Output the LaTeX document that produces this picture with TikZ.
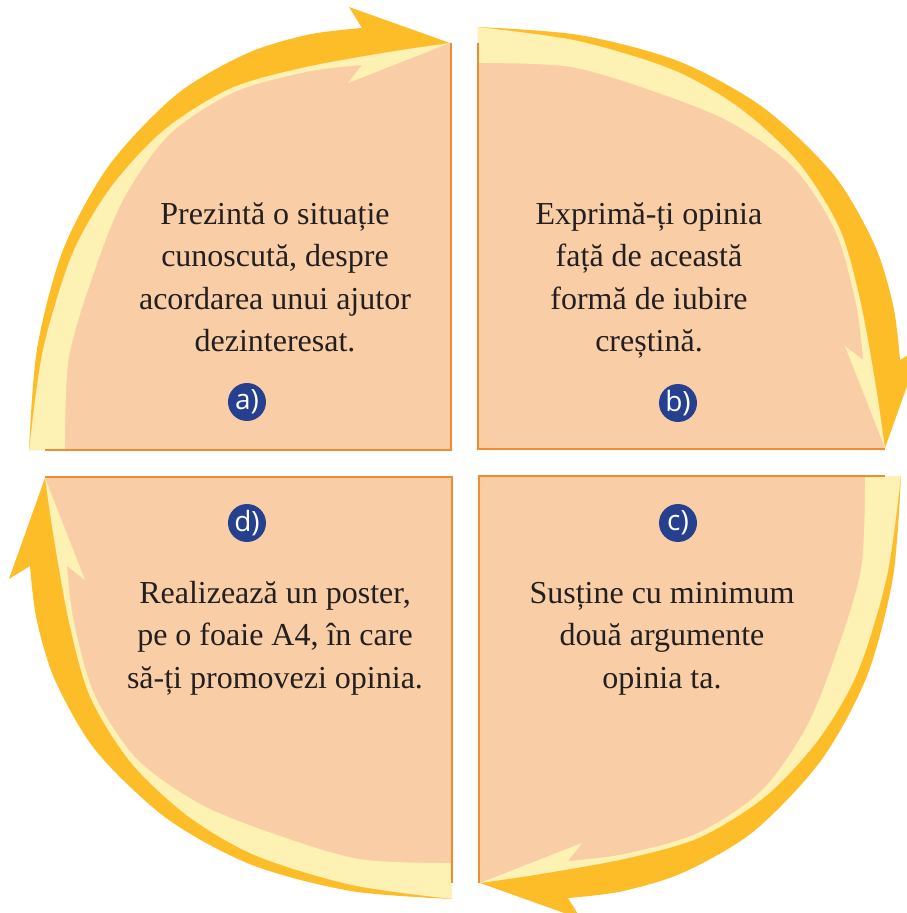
\documentclass[tikz,border=0pt]{standalone}
\usepackage{fontspec}
\setmainfont{Liberation Serif}
\newfontfamily\badgefont{Open Sans}
\definecolor{peach}{HTML}{F9CEA6}
\definecolor{paleyellow}{HTML}{FEF1B4}
\definecolor{arrowyellow}{HTML}{FDBD28}
\definecolor{edgeorange}{HTML}{F28A2E}
\definecolor{badgeblue}{HTML}{263F8F}
\definecolor{textgray}{HTML}{231F20}
\begin{document}
\begin{tikzpicture}[x=1pt,y=1pt,
        task/.style={align=center,anchor=base,inner sep=0pt,text=textgray,font=\fontsize{32}{42.5}\selectfont},
        badge/.style={circle,fill=badgeblue,minimum size=38pt,inner sep=0pt,text=white,font=\badgefont\fontsize{28}{28}\selectfont}]
    \useasboundingbox (-465,-450) rectangle (442,463);
    \clip (-465,-450) rectangle (442,463);
    %% quarters, each with its arrow
    \foreach \ang in {0,90,180,270}{
        \begin{scope}[rotate=\ang]
            \fill[peach] (13,14) -- plot[smooth] coordinates {(13,436) (75:437) (62:445) (52:449) (42:449) (32:442) (22:427) (10:418) (420,15)} -- (420,14) -- cycle;
            %% pale inner band
            \fill[paleyellow] (13,400) -- plot[smooth] coordinates {(13,436) (75:437) (62:445) (52:449) (42:449) (32:442) (22:427) (10:418) (420,15)}
                -- (380,117) -- (398,103) -- plot[smooth] coordinates {(398,103) (22:422) (32:437) (42:442) (52:432) (62:418) (75:410) (13,400)} -- cycle;
            %% outer band and head
            \fill[arrowyellow] plot[smooth] coordinates {(13,436) (75:443) (62:455) (50:464) (38:468) (28:464) (20:456) (435,103)}
                -- (456,116) -- (420,15) -- plot[smooth] coordinates {(420,15) (10:418) (22:427) (32:442) (42:449) (52:449) (62:445) (75:437) (13,436)} -- cycle;
            \draw[edgeorange,line width=2pt] (13,420) -- (13,14) -- (420,14);
        \end{scope}
    }
    %% texts (base = last line)
    \node[task] (taskA) at (-190,111) {Prezintă o situație\\cunoscută, despre\\acordarea unui ajutor\\dezinteresat.};
    \node[task] (taskB) at (184,111) {Exprimă-ți opinia\\față de această\\formă de iubire\\creștină.};
    \node[task] (taskC) at (197,-225) {Susține cu minimum\\două argumente\\opinia ta.};
    \node[task] (taskD) at (-190,-225) {Realizează un poster,\\pe o foaie A4, în care\\să-ți promovezi opinia.};
    %% letters
    \node[badge] (badgeA) at (-218,61) {a)};
    \node[badge] (badgeB) at (213,60) {b)};
    \node[badge] (badgeC) at (213,-60) {c)};
    \node[badge] (badgeD) at (-218,-60) {d)};
\end{tikzpicture}
\end{document}
